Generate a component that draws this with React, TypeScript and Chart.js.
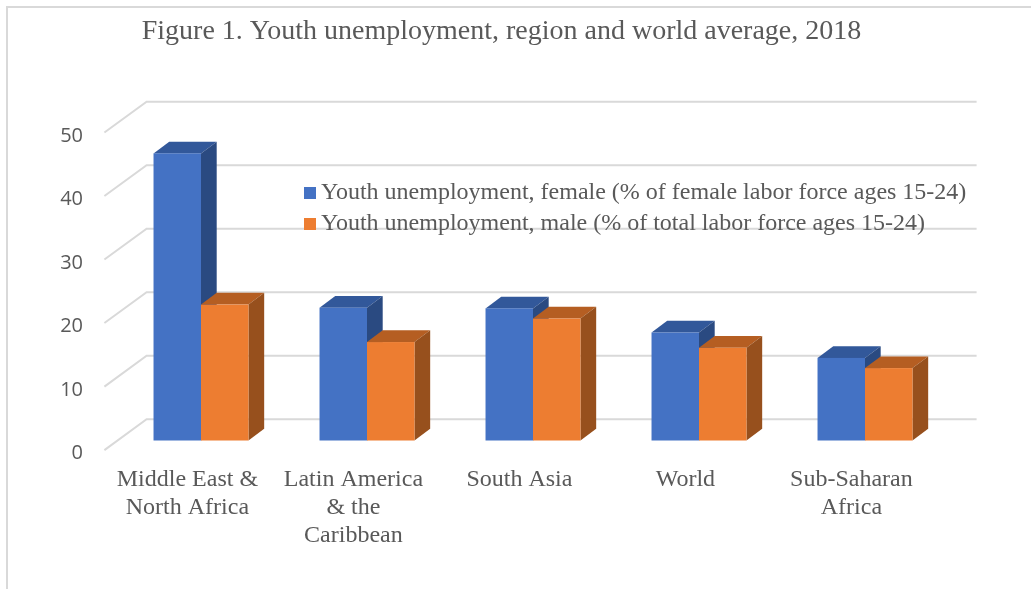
import { useEffect, useRef } from 'react';
import { Chart, registerables } from 'chart.js';

Chart.register(...registerables);

const titleText = 'Figure 1. Youth unemployment, region and world average, 2018';
const categories = [
  ['Middle East &', 'North Africa'],
  ['Latin America', '& the', 'Caribbean'],
  ['South Asia'],
  ['World'],
  ['Sub-Saharan', 'Africa'],
];
const femaleValues = [45.2, 20.9, 20.8, 17.0, 13.0];
const maleValues = [21.4, 15.5, 19.2, 14.6, 11.4];
const seriesLabels = [
  'Youth unemployment, female (% of female labor force ages 15-24)',
  'Youth unemployment, male (% of total labor force ages 15-24)',
];
const yTicks = [0, 10, 20, 30, 40, 50];

const FRONT = { dx: -13.6, dy: 9.6 };
const BACK = { dx: 28.6, dy: -21.2 };
const BAR_DEPTH = { dx: 15.7, dy: -11.7 };
const faceColors = [
  { front: '#4472C4', top: '#32589A', side: '#2A4A81' },
  { front: '#ED7D31', top: '#B55E22', side: '#97501D' },
];
const TEXT = '#595959';
const GRID = '#D9D9D9';

const pseudo3d = {
  id: 'pseudo3d',
  beforeDatasetsDraw(chart: any) {
    const { ctx, chartArea, scales } = chart;
    const y = scales.y;
    ctx.save();
    ctx.strokeStyle = GRID;
    ctx.lineWidth = 2;
    for (const v of yTicks) {
      const py = y.getPixelForValue(v);
      ctx.beginPath();
      ctx.moveTo(chartArea.left + FRONT.dx, py + FRONT.dy);
      ctx.lineTo(chartArea.left + BACK.dx, py + BACK.dy);
      ctx.lineTo(chartArea.right + BACK.dx, py + BACK.dy);
      ctx.stroke();
    }
    const metas = chart.data.datasets.map((_: any, i: number) => chart.getDatasetMeta(i));
    const n = chart.data.labels.length;
    const { dx, dy } = BAR_DEPTH;
    for (let i = 0; i < n; i++) {
      metas.forEach((meta: any, di: number) => {
        const el = meta.data[i];
        if (!el) return;
        const { x, y: top, base, width } = el.getProps(['x', 'y', 'base', 'width'], true);
        const L = x - width / 2;
        const R = x + width / 2;
        const c = faceColors[di];
        ctx.fillStyle = c.top;
        ctx.beginPath();
        ctx.moveTo(L, top);
        ctx.lineTo(L + dx, top + dy);
        ctx.lineTo(R + dx, top + dy);
        ctx.lineTo(R, top);
        ctx.closePath();
        ctx.fill();
        ctx.fillStyle = c.side;
        ctx.beginPath();
        ctx.moveTo(R, top);
        ctx.lineTo(R + dx, top + dy);
        ctx.lineTo(R + dx, base + dy);
        ctx.lineTo(R, base);
        ctx.closePath();
        ctx.fill();
        ctx.fillStyle = c.front;
        ctx.fillRect(L, top, width, base - top);
      });
    }
    ctx.restore();
    return false;
  },
  afterDraw(chart: any) {
    const { ctx } = chart;
    ctx.save();
    ctx.font = '24px "Liberation Serif"';
    ctx.textBaseline = 'middle';
    ctx.textAlign = 'left';
    const rows = [193, 224];
    chart.data.datasets.forEach((ds: any, i: number) => {
      const yc = rows[i];
      ctx.fillStyle = ds.backgroundColor;
      ctx.fillRect(304, yc - 6, 12, 12);
      ctx.fillStyle = TEXT;
      ctx.fillText(ds.label, 321, yc);
    });
    ctx.restore();
  },
};

export default function App() {
  const ref = useRef<HTMLCanvasElement>(null);
  useEffect(() => {
    const chart = new Chart(ref.current as HTMLCanvasElement, {
      type: 'bar',
      data: {
        labels: categories as any,
        datasets: [
          {
            label: seriesLabels[0],
            data: femaleValues,
            backgroundColor: faceColors[0].front,
            categoryPercentage: 0.572,
            barPercentage: 1,
          },
          {
            label: seriesLabels[1],
            data: maleValues,
            backgroundColor: faceColors[1].front,
            categoryPercentage: 0.572,
            barPercentage: 1,
          },
        ],
      },
      options: {
        responsive: false,
        animation: false,
        devicePixelRatio: 1,
        events: [],
        layout: { padding: { left: 55, right: 55, top: 0, bottom: 0 } },
        plugins: {
          legend: { display: false },
          tooltip: { enabled: false },
          title: {
            display: true,
            text: titleText,
            color: TEXT,
            font: { family: 'Liberation Serif', size: 28, weight: 'normal', lineHeight: 1.2 },
            padding: { top: 15, bottom: 74.3 },
          },
        },
        scales: {
          x: {
            grid: { display: false, drawTicks: false },
            border: { display: false },
            ticks: {
              color: TEXT,
              font: { family: 'Liberation Serif', size: 24, lineHeight: 1.15 },
              padding: 25.75,
              labelOffset: FRONT.dx,
              maxRotation: 0,
              minRotation: 0,
              autoSkip: false,
            },
            afterFit: (s: any) => {
              s.height = 148.5;
            },
          },
          y: {
            min: 0,
            max: 50,
            grid: { display: false, drawTicks: false },
            border: { display: false },
            ticks: {
              stepSize: 10,
              color: TEXT,
              font: { family: 'Open Sans', size: 20 },
              padding: 35,
              labelOffset: 13,
            },
            afterFit: (s: any) => {
              s.width = 63;
            },
          },
        },
      },
      plugins: [pseudo3d],
    } as any);
    return () => chart.destroy();
  }, []);

  return (
    <div style={{ position: 'fixed', left: 0, top: 0, width: 1031, height: 589, background: '#fff', overflow: 'hidden' }}>
      <div
        style={{
          position: 'absolute',
          left: 6,
          top: 6,
          width: 1100,
          height: 700,
          borderLeft: '2px solid #D9D9D9',
          borderTop: '2px solid #D9D9D9',
        }}
      />
      <canvas
        ref={ref}
        width={1003}
        height={589}
        style={{ position: 'absolute', left: 0, top: 0, width: 1003, height: 589 }}
      />
    </div>
  );
}
